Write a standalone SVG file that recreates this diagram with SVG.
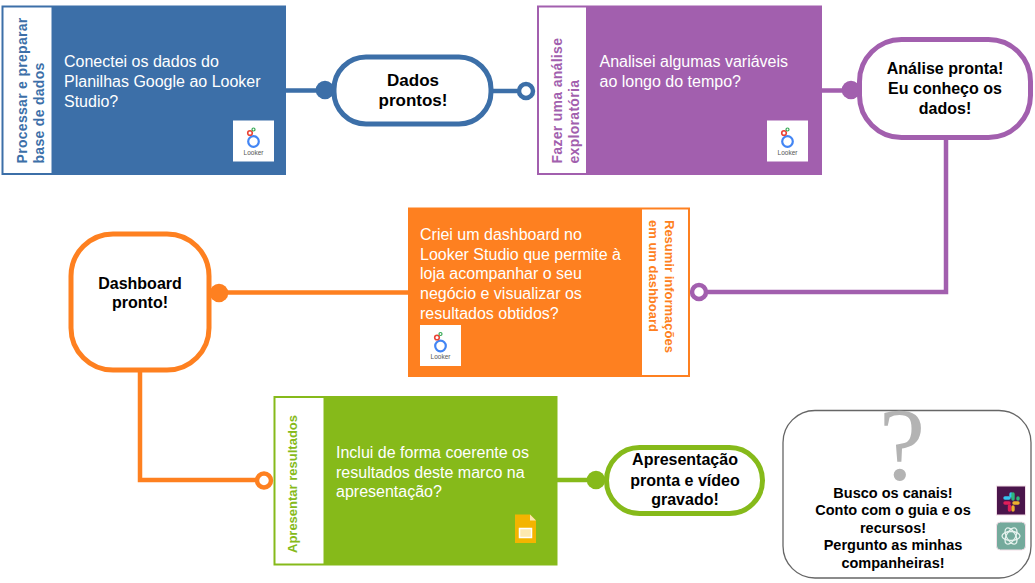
<svg xmlns="http://www.w3.org/2000/svg" width="1035" height="583" viewBox="0 0 1035 583">
<style>
text{font-family:"Liberation Sans",Arial,sans-serif}
.body{font-size:16px;fill:#fff}
.pill{font-size:16px;font-weight:700;fill:#000;text-anchor:middle}
.tag{font-size:14px;font-weight:700;letter-spacing:.3px}
.tag2{font-size:13px;font-weight:700}
.help{font-size:14.500px;font-weight:700;fill:#000;text-anchor:middle}
.lk{font-size:6.500px;fill:#555;text-anchor:middle}
.ln{fill:none;stroke-width:4.500}
.b{stroke:#3c6fa8}.p{stroke:#a25fae}.o{stroke:#fe8020}.g{stroke:#86ba1a}
.open{fill:#fff;stroke-width:4.500}
</style>
<defs>
<g id="looker">
<rect x="0" y="0" width="41" height="41" fill="#fff"/>
<circle cx="20.500" cy="21" r="5.300" fill="none" stroke="#4285f4" stroke-width="2.200"/>
<circle cx="17" cy="12.500" r="2.300" fill="none" stroke="#ea4335" stroke-width="1.600"/>
<circle cx="20.500" cy="9" r="1.500" fill="none" stroke="#34a853" stroke-width="1.200"/>
<text class="lk" x="20.500" y="34">Looker</text>
</g>
</defs>
<g id="connectors">
<path class="ln b" d="M286 90.500H330M491 91H520"/>
<circle cx="325" cy="90" r="9.300" fill="#3c6fa8"/>
<circle class="open b" cx="526" cy="91" r="7"/>
<path class="ln p" d="M822 90.500H855M946 138V292H705"/>
<circle cx="851" cy="90" r="9.300" fill="#a25fae"/>
<circle class="open p" cx="699" cy="292" r="7"/>
<path class="ln o" d="M408 292.500H215M140 370V480H258"/>
<circle cx="219" cy="293" r="9.300" fill="#fe8020"/>
<circle class="open o" cx="264" cy="480.500" r="7"/>
<path class="ln g" d="M557 480H600"/>
<circle cx="596" cy="480" r="9.300" fill="#86ba1a"/>
</g>
<g id="step-processar">
<rect x="1.500" y="5.500" width="284.500" height="169.500" fill="#3c6fa8"/>
<rect x="3.500" y="7.500" width="48" height="165.500" fill="#fff"/>
<text class="tag" fill="#3c6fa8" transform="translate(27 163.500) rotate(-90)">Processar e preparar</text>
<text class="tag" fill="#3c6fa8" transform="translate(44 163.500) rotate(-90)">base de dados</text>
<text class="body" x="64" y="67">Conectei os dados do</text>
<text class="body" x="64" y="87">Planilhas Google ao Looker</text>
<text class="body" x="64" y="107">Studio?</text>
<use href="#looker" x="233" y="120.500"/>
</g>
<g id="pill-dados">
<rect x="334" y="57" width="157" height="67" rx="32" fill="#fff" stroke="#3c6fa8" stroke-width="5"/>
<text class="pill" x="413" y="86" style="font-size:17px">Dados</text>
<text class="pill" x="413" y="106" style="font-size:17px">prontos!</text>
</g>
<g id="step-analise">
<rect x="537" y="5.500" width="285" height="169.500" fill="#a25fae"/>
<rect x="539" y="7.500" width="47" height="165.500" fill="#fff"/>
<text class="tag" fill="#a25fae" transform="translate(562 163.500) rotate(-90)">Fazer uma análise</text>
<text class="tag" fill="#a25fae" transform="translate(579 163.500) rotate(-90)">exploratória</text>
<text class="body" x="599.500" y="67">Analisei algumas variáveis</text>
<text class="body" x="599.500" y="87">ao longo do tempo?</text>
<use href="#looker" x="767" y="120.500"/>
</g>
<g id="pill-analise">
<rect x="859.500" y="39.500" width="171" height="98" rx="42" fill="#fff" stroke="#a25fae" stroke-width="5"/>
<text class="pill" x="945" y="74">Análise pronta!</text>
<text class="pill" x="945" y="94">Eu conheço os</text>
<text class="pill" x="945" y="114">dados!</text>
</g>
<g id="step-dashboard">
<rect x="408" y="207.500" width="282" height="169.500" fill="#fe8020"/>
<rect x="642" y="209.500" width="46" height="165.500" fill="#fff"/>
<text class="tag2" fill="#fe8020" transform="translate(665 220) rotate(90)">Resumir informações</text>
<text class="tag2" fill="#fe8020" transform="translate(649 220) rotate(90)">em um dashboard</text>
<text class="body" x="420" y="240">Criei um dashboard no</text>
<text class="body" x="420" y="260">Looker Studio que permite à</text>
<text class="body" x="420" y="279">loja acompanhar o seu</text>
<text class="body" x="420" y="299">negócio e visualizar os</text>
<text class="body" x="420" y="319">resultados obtidos?</text>
<use href="#looker" x="420" y="325"/>
</g>
<g id="pill-dashboard">
<rect x="71" y="234" width="138" height="136" rx="42" fill="#fff" stroke="#fe8020" stroke-width="5"/>
<text class="pill" x="140" y="289">Dashboard</text>
<text class="pill" x="140" y="308">pronto!</text>
</g>
<g id="step-apresentar">
<rect x="273.500" y="396" width="284" height="169.500" fill="#86ba1a"/>
<rect x="275.500" y="398" width="48" height="165.500" fill="#fff"/>
<text class="tag2" fill="#86ba1a" transform="translate(297 553) rotate(-90)">Apresentar resultados</text>
<text class="body" x="336" y="458">Inclui de forma coerente os</text>
<text class="body" x="336" y="478">resultados deste marco na</text>
<text class="body" x="336" y="497">apresentação?</text>
<path d="M515 514.500H530L536 520.500V543H515Z" fill="#f4b400"/>
<path d="M530 514.500L536 520.500H530Z" fill="#fbe7b2"/>
<rect x="519.500" y="528.500" width="12" height="9" fill="#fde9b0" stroke="#fff" stroke-width="1.500"/>
</g>
<g id="pill-apresentacao">
<rect x="606.500" y="447.500" width="156" height="66" rx="33" fill="#fff" stroke="#86ba1a" stroke-width="5"/>
<text class="pill" x="685" y="465">Apresentação</text>
<text class="pill" x="685" y="486">pronta e vídeo</text>
<text class="pill" x="685" y="505">gravado!</text>
</g>
<g id="help">
<rect x="783" y="410.500" width="248" height="167.500" rx="32" fill="#fff" stroke="#666" stroke-width="1.300"/>
<text x="902" y="480" text-anchor="middle" style="font-family:'Liberation Serif',serif;font-size:104px;fill:#b3b3b3">?</text>
<text class="help" x="893" y="498">Busco os canais!</text>
<text class="help" x="893" y="515">Conto com o guia e os</text>
<text class="help" x="893" y="533">recursos!</text>
<text class="help" x="893" y="550">Pergunto as minhas</text>
<text class="help" x="893" y="568">companheiras!</text>
<rect x="996.500" y="486" width="29" height="29" fill="#4a154b" stroke="#f3dfe8"/>
<g stroke-width="3.400" stroke-linecap="round" fill="none">
<path d="M1005 498H1009" stroke="#36c5f0"/><path d="M1011 494V496" stroke="#36c5f0"/>
<path d="M1013 494V499" stroke="#2eb67d"/><path d="M1018 498V499" stroke="#2eb67d"/>
<path d="M1014 503H1018" stroke="#ecb22e"/><path d="M1013 507V510" stroke="#ecb22e"/>
<path d="M1005 503H1009" stroke="#e01e5a"/><path d="M1009.500 506V510" stroke="#e01e5a"/>
</g>
<rect x="996.500" y="522" width="29" height="28" rx="4" fill="#74aa9c" stroke="#f3dfe8"/>
<g fill="none" stroke="#e6f2ee" stroke-width="1.300">
<ellipse cx="1011" cy="536" rx="9" ry="4.500"/>
<ellipse cx="1011" cy="536" rx="9" ry="4.500" transform="rotate(60 1011 536)"/>
<ellipse cx="1011" cy="536" rx="9" ry="4.500" transform="rotate(120 1011 536)"/>
</g>
</g>
</svg>
